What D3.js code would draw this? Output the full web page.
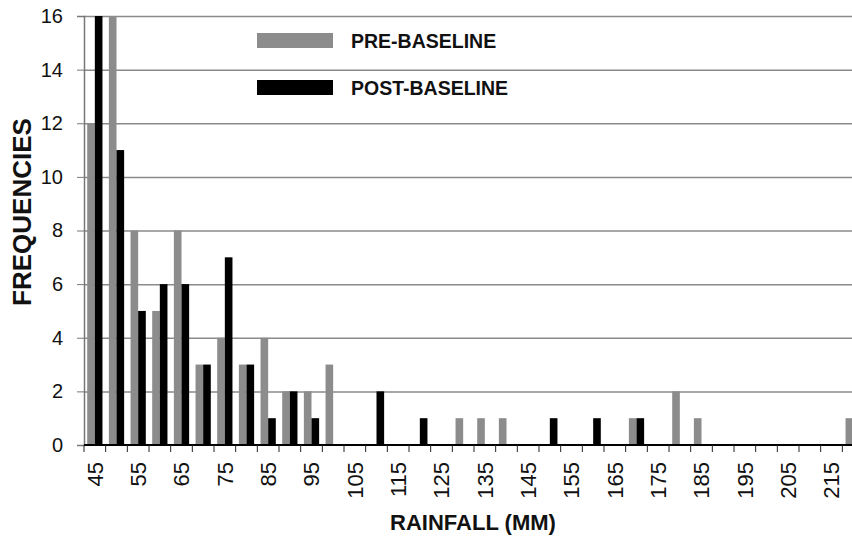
<!DOCTYPE html>
<html>
<head>
  <style type="text/css">
    body { margin: 0; background: #fff; }
    svg { display: block; font-family: "Liberation Sans", Arial, sans-serif; }
  </style>
</head>
<body>
<svg id='vis' width='852' height='539'></svg>

<script src="https://cdnjs.cloudflare.com/ajax/libs/d3/7.8.5/d3.min.js"></script>
<script type="text/javascript">

  // rainfall classes (mm), 45 .. 220 by 5
  var categories = ['45','50','55','60','65','70','75','80','85','90','95','100',
                    '105','110','115','120','125','130','135','140','145','150',
                    '155','160','165','170','175','180','185','190','195','200',
                    '205','210','215','220'];
  var preBaseline  = [12,16,8,5,8,3,4,3,4,2,2,3, 0,0,0,0,0,1,1,1,0,0, 0,0,0,1,0,2,1,0,0,0, 0,0,0,1];
  var postBaseline = [16,11,5,6,6,3,7,3,1,2,1,0, 0,2,0,1,0,0,0,0,0,1, 0,1,0,1,0,0,0,0,0,0, 0,0,0,0];
  var xLabels = ['45','55','65','75','85','95','105','115','125','135','145','155',
                 '165','175','185','195','205','215'];
  var yTicks = [0,2,4,6,8,10,12,14,16];
  var series = [
    { key: 'pre',  name: 'PRE-BASELINE',  values: preBaseline,  color: '#8c8c8c' },
    { key: 'post', name: 'POST-BASELINE', values: postBaseline, color: '#000' }
  ];

  var margin = { top: 16, left: 84, bottom: 94 },
      width = 780,    // plot runs past the right edge, last class is cut off
      height = 539 - margin.top - margin.bottom;

  var svg = d3.select('#vis');
  var g = svg.append('g').attr('transform', 'translate(' + margin.left + ',' + margin.top + ')');

  var x = d3.scaleBand().domain(categories).range([0, width]).padding(0);
  var xSub = d3.scaleBand().domain(['pre','post']).range([0, x.bandwidth()])
    .paddingInner(0).paddingOuter(0.42);
  var y = d3.scaleLinear().domain([0, 16]).range([height, 0]);

  // gridlines
  g.append('g')
    .call(d3.axisLeft(y).tickValues(yTicks.slice(1)).tickSize(-width).tickFormat(''))
    .call(function(s) {
      s.select('.domain').remove();
      s.selectAll('line').attr('stroke', '#8a8a8a').attr('stroke-width', 1.5);
    });

  // bars
  var rows = categories.map(function(c, i) {
    return { cat: c, pre: preBaseline[i], post: postBaseline[i] };
  });
  series.forEach(function(s) {
    g.append('g').selectAll('rect')
      .data(rows.filter(function(d) { return d[s.key] > 0 }))
      .enter().append('rect')
      .attr('x', function(d) { return x(d.cat) + xSub(s.key) })
      .attr('width', xSub.bandwidth())
      .attr('y', function(d) { return y(d[s.key]) })
      .attr('height', function(d) { return height - y(d[s.key]) })
      .attr('fill', s.color);
  });

  // y axis
  g.append('g')
    .call(d3.axisLeft(y).tickValues(yTicks).tickSize(7).tickPadding(14))
    .call(function(s) {
      s.select('.domain').attr('stroke', '#777').attr('stroke-width', 1.5);
      s.selectAll('line').attr('stroke', '#777');
      s.selectAll('text').attr('font-size', 20).attr('fill', '#111')
        .attr('font-family', '"Liberation Sans", Arial, sans-serif');
    });

  // x axis: boundary ticks + rotated labels
  g.append('line')
    .attr('x1', 0).attr('x2', width).attr('y1', height).attr('y2', height)
    .attr('stroke', '#000').attr('stroke-width', 2);
  g.append('g').selectAll('line')
    .data(categories.concat(['end']))
    .enter().append('line')
    .attr('x1', function(d) { return d === 'end' ? width : x(d) })
    .attr('x2', function(d) { return d === 'end' ? width : x(d) })
    .attr('y1', height).attr('y2', height + 7)
    .attr('stroke', '#222');

  g.append('g')
    .attr('transform', 'translate(0,' + height + ')')
    .call(d3.axisBottom(x).tickValues(xLabels).tickSize(0))
    .call(function(s) {
      s.select('.domain').remove();
      s.selectAll('text')
        .attr('font-size', 22).attr('fill', '#111')
        .attr('font-family', '"Liberation Sans", Arial, sans-serif')
        .attr('transform', 'rotate(-90)')
        .attr('text-anchor', 'end')
        .attr('x', -17).attr('y', 0).attr('dy', '0.35em');
    });

  // axis titles
  svg.append('text')
    .attr('x', 473).attr('y', 530)
    .attr('text-anchor', 'middle')
    .attr('font-size', 22).attr('font-weight', 'bold').attr('fill', '#111')
    .text('RAINFALL (MM)');
  svg.append('text')
    .attr('transform', 'translate(31,212) rotate(-90)')
    .attr('text-anchor', 'middle')
    .attr('font-size', 26).attr('font-weight', 'bold').attr('fill', '#111')
    .text('FREQUENCIES');

  // legend
  var legend = svg.append('g').attr('transform', 'translate(257,33)');
  var li = legend.selectAll('g').data(series).enter().append('g')
    .attr('transform', function(d, i) { return 'translate(0,' + (i * 47) + ')' });
  li.append('rect').attr('width', 76).attr('height', 15)
    .attr('fill', function(d) { return d.color });
  li.append('text').attr('x', 94).attr('y', 15)
    .attr('font-size', 19.5).attr('font-weight', 'bold').attr('fill', '#111')
    .text(function(d) { return d.name });

</script>
</body>
</html>
